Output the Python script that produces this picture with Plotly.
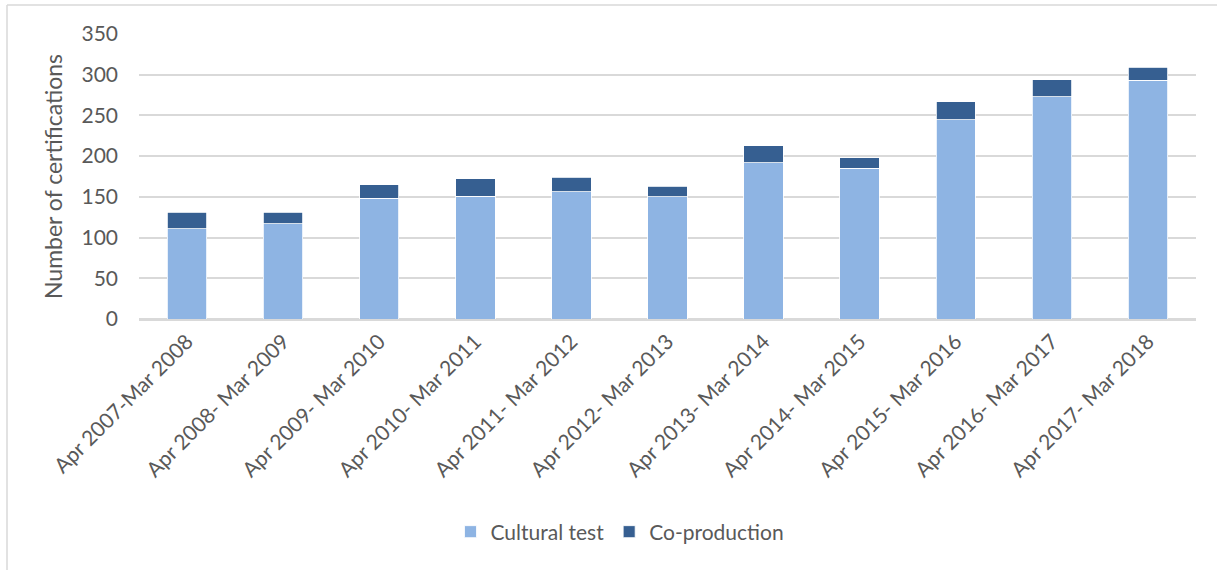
import plotly.graph_objects as go

# Financial years (April to March)
periods = [
    "Apr 2007-Mar 2008",
    "Apr 2008- Mar 2009",
    "Apr 2009- Mar 2010",
    "Apr 2010- Mar 2011",
    "Apr 2011- Mar 2012",
    "Apr 2012- Mar 2013",
    "Apr 2013- Mar 2014",
    "Apr 2014- Mar 2015",
    "Apr 2015- Mar 2016",
    "Apr 2016- Mar 2017",
    "Apr 2017- Mar 2018",
]

# Certifications by route
cultural_test = [111, 117, 148, 151, 156, 150, 192, 185, 245, 273, 293]
co_production = [20, 14, 17, 21, 18, 13, 21, 13, 22, 21, 16]

y_ticks = [0, 50, 100, 150, 200, 250, 300, 350]

FONT = "Lato"
TEXT = "#595959"
GRID = "#D9D9D9"

W, H = 1217, 570
L, R, T, B = 139, 21, 34, 251
pw, ph = W - L - R, H - T - B


def px_to_paper_x(px):
    return (px - L) / pw


def px_to_paper_y(py):
    return (H - B - py) / ph


fig = go.Figure()
fig.add_trace(go.Bar(
    x=periods, y=cultural_test, name="Cultural test",
    marker=dict(color="#8EB4E3", line=dict(color="#FFFFFF", width=0.8)),
))
fig.add_trace(go.Bar(
    x=periods, y=co_production, name="Co-production",
    marker=dict(color="#365F91", line=dict(color="#FFFFFF", width=0.8)),
))

# Chart frame (top and left edges)
fig.add_shape(type="line", xref="paper", yref="paper",
              x0=px_to_paper_x(7), x1=px_to_paper_x(1230),
              y0=px_to_paper_y(5), y1=px_to_paper_y(5),
              line=dict(color=GRID, width=1.5))
fig.add_shape(type="line", xref="paper", yref="paper",
              x0=px_to_paper_x(7), x1=px_to_paper_x(7),
              y0=px_to_paper_y(5), y1=px_to_paper_y(600),
              line=dict(color=GRID, width=1.5))

fig.update_layout(
    width=W, height=H,
    margin=dict(l=L, r=R, t=T, b=B, pad=0),
    barmode="stack",
    bargap=0.59,
    plot_bgcolor="white",
    paper_bgcolor="white",
    font=dict(family=FONT, color=TEXT, size=21),
    showlegend=True,
    legend=dict(
        orientation="h",
        x=px_to_paper_x(620), xanchor="center",
        y=px_to_paper_y(532), yanchor="middle",
        font=dict(size=21, color=TEXT, family=FONT),
        itemwidth=30,
        traceorder="normal",
    ),
)

fig.update_xaxes(
    tickangle=-45,
    tickfont=dict(size=21, color=TEXT, family=FONT),
    showgrid=False,
    showline=True, linecolor=GRID, linewidth=2,
    ticks="",
)
fig.update_yaxes(
    range=[0, 350],
    tickvals=y_ticks,
    ticktext=[str(v) for v in y_ticks],
    tickfont=dict(size=21, color=TEXT, family=FONT),
    showgrid=True, gridcolor=GRID, gridwidth=2,
    zeroline=True, zerolinecolor=GRID, zerolinewidth=2,
    ticks="", ticklabelstandoff=20,
    title=dict(text="Number of certifications",
               font=dict(size=23, color=TEXT, family=FONT), standoff=12),
)

fig.write_html("out.html")
